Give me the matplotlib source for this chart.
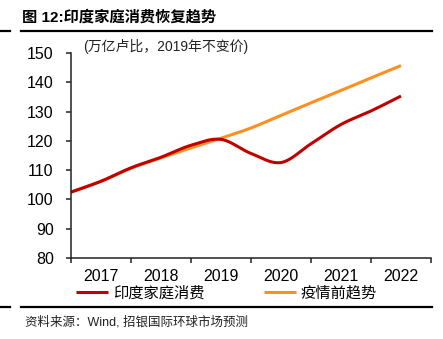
import numpy as np
import matplotlib
matplotlib.use("Agg")
import matplotlib.pyplot as plt
from matplotlib.lines import Line2D

plt.rcParams['font.family'] = ['Liberation Sans', 'Noto Sans CJK SC', 'DejaVu Sans']

# half-year points, 2016H2 .. 2022
periods = [2016.5, 2017.0, 2017.5, 2018.0, 2018.5, 2019.0,
           2019.5, 2020.0, 2020.5, 2021.0, 2021.5, 2022.0]
household = [102.5, 106.2, 110.8, 114.4, 118.5, 120.5,
             115.7, 112.6, 119.0, 125.6, 130.2, 135.3]
pre_covid_trend = [102.5, 106.2, 110.6, 114.2, 117.6, 120.9,
                   124.4, 128.7, 133.0, 137.2, 141.5, 145.7]
year_labels = ['2017', '2018', '2019', '2020', '2021', '2022']
series_names = ['印度家庭消费', '疫情前趋势']


def smooth(x, y, n=20):
    # Catmull-Rom spline through the points, like a smoothed line in Excel
    x = np.asarray(x, float)
    y = np.asarray(y, float)
    px = np.concatenate([[2 * x[0] - x[1]], x, [2 * x[-1] - x[-2]]])
    py = np.concatenate([[2 * y[0] - y[1]], y, [2 * y[-1] - y[-2]]])
    xs, ys = [], []
    t = np.linspace(0, 1, n, endpoint=False)
    for i in range(1, len(px) - 2):
        for p, out in ((px, xs), (py, ys)):
            p0, p1, p2, p3 = p[i - 1], p[i], p[i + 1], p[i + 2]
            out.extend(0.5 * (2 * p1 + (-p0 + p2) * t
                              + (2 * p0 - 5 * p1 + 4 * p2 - p3) * t ** 2
                              + (-p0 + 3 * p1 - 3 * p2 + p3) * t ** 3))
    xs.append(x[-1])
    ys.append(y[-1])
    return np.array(xs), np.array(ys)


W, H = 443, 339
fig = plt.figure(figsize=(W / 100, H / 100), dpi=100)
ax = fig.add_axes([71 / W, 1 - 258 / H, 360 / W, 205 / H])

red = '#C00000'
orange = '#FF8F1F'
sx, sy = smooth(periods, pre_covid_trend)
l2, = ax.plot(sx, sy, color=orange, lw=2.2, solid_capstyle='butt')
sx, sy = smooth(periods, household)
l1, = ax.plot(sx, sy, color=red, lw=2.2, solid_capstyle='butt')

ax.set_xlim(2016.5, 2022.5)
ax.set_ylim(80, 150)
ax.set_yticks(range(80, 151, 10))
ax.set_xticks(np.arange(2016.5, 2022.6, 1.0))
ax.set_xticklabels([])
ax.set_xticks(np.arange(2017, 2023), minor=True)
ax.set_xticklabels(year_labels, minor=True)

for s in ['top', 'right']:
    ax.spines[s].set_visible(False)
for s in ['left', 'bottom']:
    ax.spines[s].set_linewidth(1.1)
    ax.spines[s].set_color('#222222')
ax.tick_params(axis='y', direction='out', length=3.5, width=1.1, color='#222222',
               labelsize=11.5, pad=9)
ax.tick_params(axis='x', which='major', direction='out', length=3.5, width=1.1,
               color='#222222')
ax.tick_params(axis='x', which='minor', length=0, labelsize=11.5, pad=8)

fig.text(83 / W, 1 - 46 / H, '(万亿卢比，2019年不变价)', fontsize=10,
         va='center', ha='left', color='#222222')

fig.text(22 / W, 1 - 17 / H, '图 12:印度家庭消费恢复趋势', fontsize=11,
         fontweight='bold', va='center', ha='left')

fig.legend([l1, l2], series_names, loc='center left',
           bbox_to_anchor=(76 / W, 1 - 293 / H), ncol=2, frameon=False,
           fontsize=11, handlelength=2.1, handletextpad=0.3,
           columnspacing=3.9, borderaxespad=0, borderpad=0)

fig.text(25 / W, 1 - 322 / H, '资料来源：Wind, 招银国际环球市场预测', fontsize=9,
         va='center', ha='left', color='#222222')

# rules above and below the chart block
for yy in (1 - 31 / H, 1 - 307 / H):
    fig.add_artist(Line2D([0, 10 / W], [yy, yy], color='black', lw=1.6,
                          transform=fig.transFigure))
    fig.add_artist(Line2D([21 / W, 432 / W], [yy, yy], color='black', lw=1.6,
                          transform=fig.transFigure))

fig.savefig('out.png', dpi=100)
